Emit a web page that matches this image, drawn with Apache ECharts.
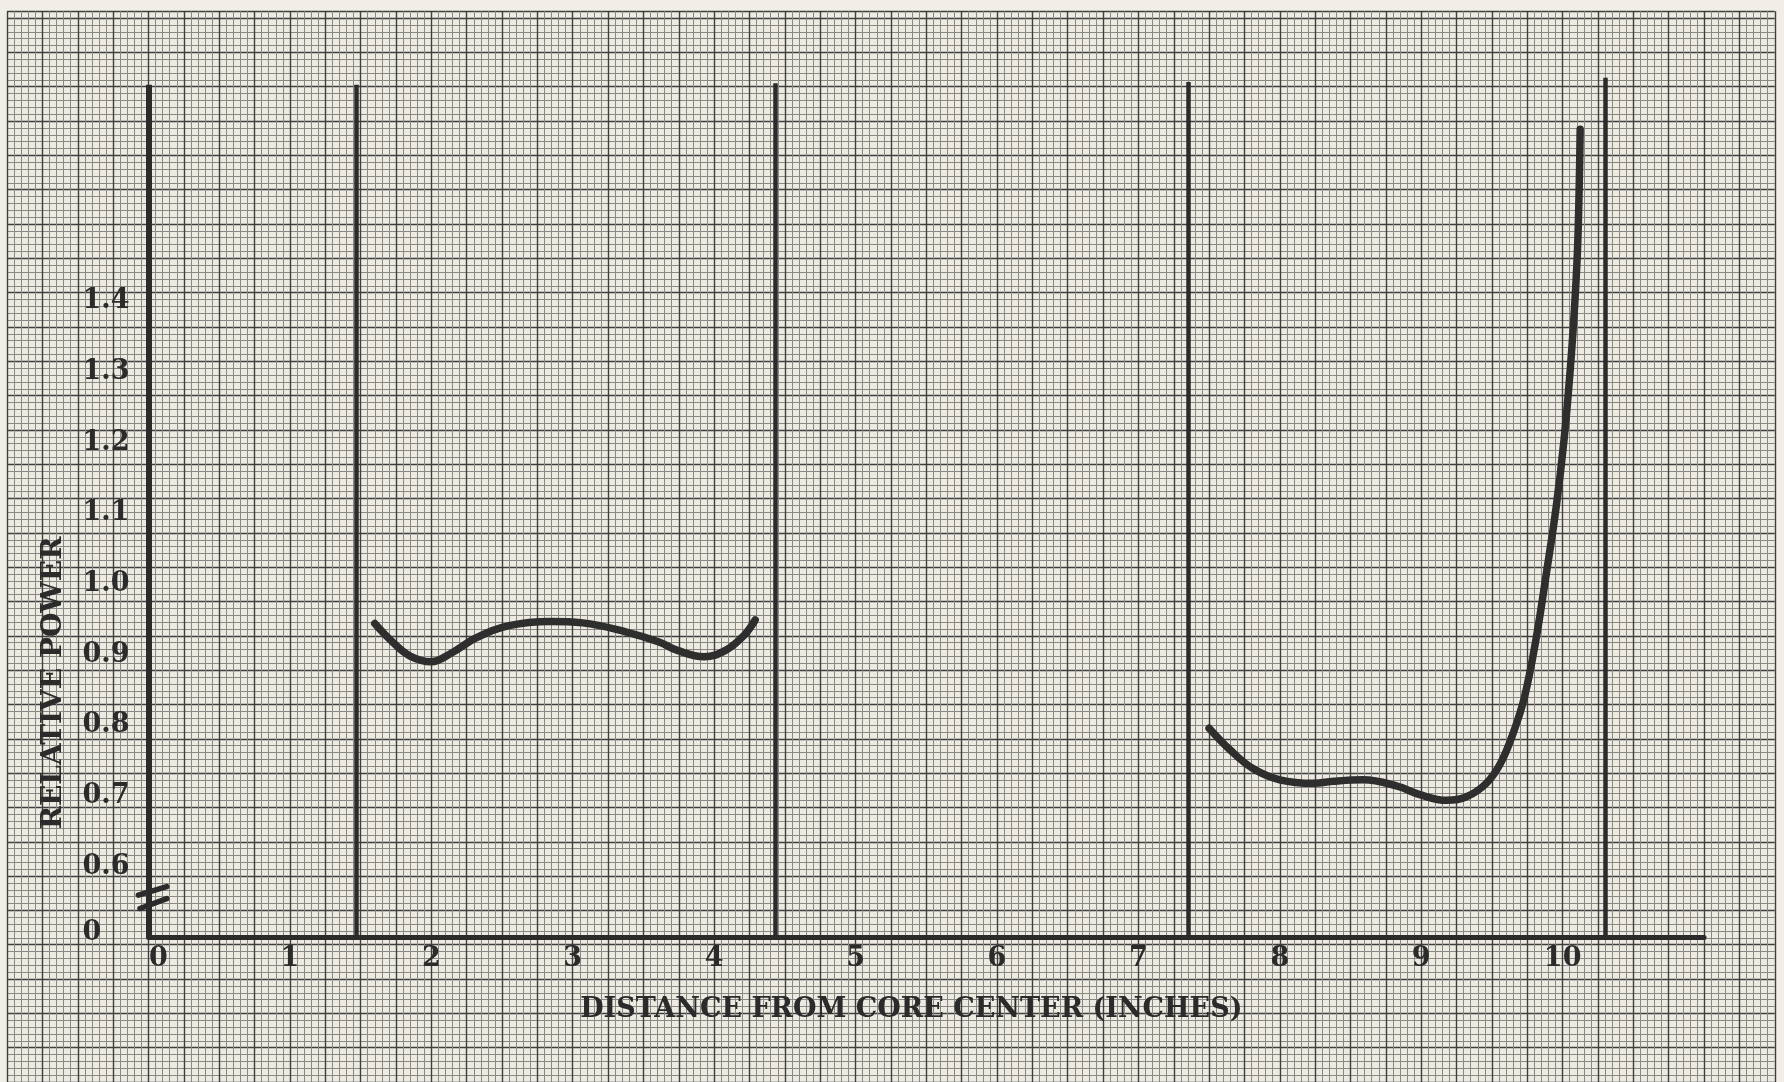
<!DOCTYPE html>
<html>
<head>
<meta charset="utf-8">
<script src="https://cdn.jsdelivr.net/npm/echarts@6/dist/echarts.min.js"></script>
<style>
  html, body { margin: 0; padding: 0; background: #f1eee7; }
  #chart { width: 1784px; height: 1082px; }
</style>
</head>
<body>
<div id="chart"></div>
<script>
// Axis ticks
const xTickValues = [0, 1, 2, 3, 4, 5, 6, 7, 8, 9, 10];
const xTickLabels = ['0', '1', '2', '3', '4', '5', '6', '7', '8', '9', '10'];
// The vertical axis is broken: the bottom line carries the "0" label
const yTickValues = [0.5, 0.6, 0.7, 0.8, 0.9, 1.0, 1.1, 1.2, 1.3, 1.4];
const yTickLabels = ['0', '0.6', '0.7', '0.8', '0.9', '1.0', '1.1', '1.2', '1.3', '1.4'];

// Region boundaries (inches from core center) and the height each is drawn to
const boundaryX = [0, 1.47, 4.43, 7.35, 10.30];
const boundaryTop = [1.706, 1.706, 1.708, 1.710, 1.716];

// Inner region power profile
const innerX = [1.60, 1.72, 1.85, 2.00, 2.14, 2.32, 2.55, 2.84, 3.07, 3.38, 3.61, 3.74, 3.93, 4.08, 4.21, 4.29];
const innerPower = [0.944, 0.919, 0.898, 0.890, 0.902, 0.924, 0.941, 0.947, 0.945, 0.932, 0.918, 0.906, 0.897, 0.906, 0.927, 0.949];

// Outer region power profile
const outerX = [7.50, 7.65, 7.81, 8.00, 8.24, 8.38, 8.59, 8.83, 8.99, 9.18, 9.32, 9.46, 9.56, 9.65, 9.73, 9.81, 9.885, 9.955, 10.01, 10.052, 10.085, 10.108, 10.124];
const outerPower = [0.796, 0.765, 0.739, 0.723, 0.718, 0.721, 0.723, 0.714, 0.702, 0.694, 0.699, 0.718, 0.746, 0.789, 0.840, 0.920, 1.015, 1.110, 1.204, 1.299, 1.394, 1.489, 1.643];

// Page geometry: graph paper cell size and the plot origin
const W = 1784, H = 1082;
const CELL = 7.0707;          // one small square of the paper
const X0 = 148.5, Y0 = 937.5; // pixel position of the plot origin
const INK = '#2b2b2b';
const FONT = "'DejaVu Serif', 'Liberation Serif', serif";
const FS = 27;

const chart = echarts.init(document.getElementById('chart'), null, { renderer: 'canvas' });

function yLabel(v) {
  for (let i = 0; i < yTickValues.length; i++) {
    if (Math.abs(v - yTickValues[i]) < 1e-6) return i === 0 ? '{z|' + yTickLabels[i] + '}' : yTickLabels[i];
  }
  return '';
}
function xLabel(v) {
  for (let i = 0; i < xTickValues.length; i++) {
    if (Math.abs(v - xTickValues[i]) < 1e-6) return i === 0 ? '{z|' + xTickLabels[i] + '}' : xTickLabels[i];
  }
  return '';
}

const paperAxis = (min, max) => ({
  type: 'value', min: min, max: max, interval: 5,
  axisLine: { show: false }, axisTick: { show: false }, axisLabel: { show: false },
  splitLine: { show: true, lineStyle: { color: '#3f3f3d', width: 1.4 } },
  minorTick: { show: false, splitNumber: 5 },
  minorSplitLine: { show: true, lineStyle: { color: '#8a8883', width: 1 } },
  silent: true
});

const textBase = { color: INK, fontFamily: FONT, fontWeight: 'bold', fontSize: FS };

chart.setOption({
  backgroundColor: '#f1eee7',
  animation: false,
  grid: [
    { // graph paper
      left: X0 - 20 * CELL, right: W - (X0 + 230 * CELL),
      top: Y0 - 131 * CELL, bottom: H - (Y0 + 25 * CELL),
      show: true, backgroundColor: '#edeae2', borderWidth: 0
    },
    { // plot area
      left: X0, right: W - (X0 + 220 * CELL),
      top: Y0 - 125 * CELL, bottom: H - Y0,
      containLabel: false
    }
  ],
  xAxis: [
    Object.assign(paperAxis(-20, 230), { gridIndex: 0 }),
    {
      gridIndex: 1, type: 'value', min: 0, max: 11, interval: 1,
      axisLine: { show: true, lineStyle: { color: INK, width: 5, cap: 'round' } },
      axisTick: { show: false },
      splitLine: { show: false },
      axisLabel: Object.assign({
        margin: 8, formatter: xLabel,
        rich: { z: Object.assign({ padding: [0, 0, 0, 20] }, textBase) }
      }, textBase),
      name: 'DISTANCE FROM CORE CENTER (INCHES)',
      nameLocation: 'middle', nameGap: 59,
      nameTextStyle: Object.assign({ padding: [0, 30, 0, 0] }, textBase)
    }
  ],
  yAxis: [
    Object.assign(paperAxis(-25, 131), { gridIndex: 0 }),
    {
      gridIndex: 1, type: 'value', min: 0.5, max: 1.75, interval: 0.1,
      axisLine: { show: false }, axisTick: { show: false }, splitLine: { show: false },
      axisLabel: Object.assign({
        margin: 66, align: 'left', formatter: yLabel,
        rich: { z: Object.assign({ padding: [0, 0, 10, 0] }, textBase) }
      }, textBase)
    }
  ],
  series: [
    {
      name: 'boundaries', type: 'lines', coordinateSystem: 'cartesian2d',
      xAxisIndex: 1, yAxisIndex: 1, polyline: false, silent: true,
      lineStyle: { color: INK, width: 5, opacity: 1 },
      data: boundaryX.map((x, i) => ({
        coords: [[x, 0.5], [x, boundaryTop[i]]],
        lineStyle: { width: i === 0 ? 6 : 4.5 }
      })),
      z: 3
    },
    {
      name: 'inner', type: 'line', xAxisIndex: 1, yAxisIndex: 1,
      data: innerX.map((x, i) => [x, innerPower[i]]),
      smooth: 0.4, showSymbol: false, silent: true,
      lineStyle: { color: '#2e2e2e', width: 7.5, cap: 'round', join: 'round' },
      z: 4
    },
    {
      name: 'outer', type: 'line', xAxisIndex: 1, yAxisIndex: 1,
      data: outerX.map((x, i) => [x, outerPower[i]]),
      smooth: 0.4, showSymbol: false, silent: true,
      lineStyle: { color: '#2e2e2e', width: 7.5, cap: 'round', join: 'round' },
      z: 4
    }
  ]
});

// Axis break marks across the vertical axis, and the vertical axis title
const breakMarks = [[[-0.072, 0.560], [0.129, 0.572]], [[-0.060, 0.541], [0.129, 0.555]]];
const g = [];
breakMarks.forEach(seg => {
  const a = chart.convertToPixel({ gridIndex: 1 }, seg[0]);
  const b = chart.convertToPixel({ gridIndex: 1 }, seg[1]);
  g.push({
    type: 'line', z: 10, silent: true,
    shape: { x1: a[0], y1: a[1], x2: b[0], y2: b[1] },
    style: { stroke: INK, lineWidth: 5.5, lineCap: 'round' }
  });
});
const titlePos = chart.convertToPixel({ gridIndex: 1 }, [0, 0.86]);
g.push({
  type: 'text', z: 10, silent: true,
  x: 54, y: titlePos[1], rotation: Math.PI / 2,
  style: {
    text: 'RELATIVE POWER', fill: INK,
    font: "bold 28px 'DejaVu Serif', 'Liberation Serif', serif",
    textAlign: 'center', textVerticalAlign: 'middle'
  }
});
chart.setOption({ graphic: g });
</script>
</body>
</html>
